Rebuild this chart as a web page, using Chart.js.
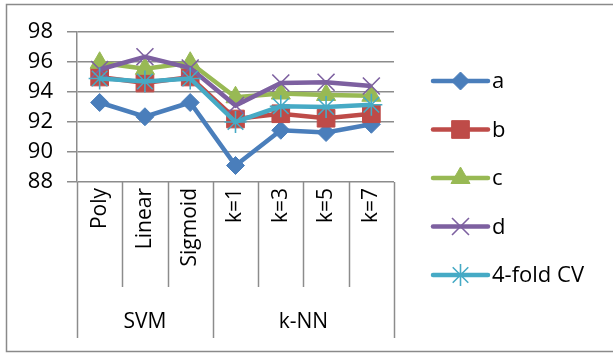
<!DOCTYPE html>
<html>
<head>
<meta charset="utf-8">
<script src="https://cdn.jsdelivr.net/npm/chart.js@4/dist/chart.umd.min.js"></script>
<style>
  html, body { margin: 0; padding: 0; background: #fff; }
  #wrap { width: 613px; height: 353px; position: relative; }
</style>
</head>
<body>
<div id="wrap"><canvas id="c" width="613" height="353"></canvas></div>
<script>
const categories = ['Poly', 'Linear', 'Sigmoid', 'k=1', 'k=3', 'k=5', 'k=7'];
const groupNames = ['SVM', 'k-NN'];
const groupSizes = [3, 4];
const seriesNames = ['a', 'b', 'c', 'd', '4-fold CV'];
const seriesA = [93.3, 92.35, 93.3, 89.1, 91.45, 91.3, 91.85];
const seriesB = [95.0, 94.6, 95.0, 92.2, 92.55, 92.25, 92.55];
const seriesC = [95.95, 95.55, 95.95, 93.65, 93.9, 93.8, 93.75];
const seriesD = [95.5, 96.35, 95.6, 93.1, 94.6, 94.65, 94.4];
const seriesCV = [94.9, 94.7, 94.9, 92.0, 93.05, 93.0, 93.15];
const yTicks = [88, 90, 92, 94, 96, 98];

const FONT = "'Open Sans', 'Liberation Sans', sans-serif";
const GRID = '#8c8c8c';
const colors = ['#4a7ebb', '#be4b48', '#98b954', '#7d60a0', '#46aac5'];
const styles = ['rectRot', 'rect', 'triangle', 'crossRot', 'star'];
const radii = [9, 12.5, 11, 12, 11];
const bw = [1, 1, 1, 1.6, 1.6];
const values = [seriesA, seriesB, seriesC, seriesD, seriesCV];

const datasets = values.map((v, i) => ({
  label: seriesNames[i],
  data: v,
  borderColor: colors[i],
  backgroundColor: colors[i],
  borderWidth: 4.5,
  pointStyle: styles[i],
  pointRadius: radii[i],
  pointHoverRadius: radii[i],
  pointBorderWidth: bw[i],
  pointBorderColor: colors[i],
  pointBackgroundColor: colors[i],
  tension: 0,
  order: values.length - i
}));

const decor = {
  id: 'decor',
  beforeDraw(chart) {
    const ctx = chart.ctx;
    ctx.save();
    ctx.strokeStyle = '#8a8a8a';
    ctx.lineWidth = 1.5;
    ctx.strokeRect(6.5, 4.5, 640, 347);
    ctx.restore();
  },
  afterDraw(chart) {
    const ctx = chart.ctx;
    const xs = chart.scales.x;
    const area = chart.chartArea;
    const n = categories.length;
    const step = n > 1 ? (xs.getPixelForValue(1) - xs.getPixelForValue(0)) : (area.right - area.left);
    const bounds = [];
    for (let i = 0; i <= n; i++) bounds.push(xs.getPixelForValue(i) - step / 2);
    const groupStarts = [0];
    groupSizes.forEach((s, i) => groupStarts.push(groupStarts[i] + s));
    const bottom = area.bottom;
    const catRowH = 105;
    const fullH = xs.bottom - xs.top;
    ctx.save();
    ctx.strokeStyle = GRID;
    ctx.lineWidth = 1.5;
    for (let i = 0; i <= n; i++) {
      const isGroup = groupStarts.includes(i);
      const x = Math.round(bounds[i]) + 0.5;
      ctx.beginPath();
      ctx.moveTo(x, bottom);
      ctx.lineTo(x, bottom + (isGroup ? fullH : catRowH));
      ctx.stroke();
    }
    ctx.fillStyle = '#000';
    ctx.font = "21px " + FONT;
    ctx.textAlign = 'center';
    ctx.textBaseline = 'middle';
    groupNames.forEach((g, gi) => {
      const x0 = bounds[groupStarts[gi]];
      const x1 = bounds[groupStarts[gi + 1]];
      ctx.fillText(g, (x0 + x1) / 2, bottom + 140);
    });
    // legend
    const lx0 = 433, lx1 = 488, ly0 = 81, ldy = 48.5;
    chart.data.datasets.forEach((ds, i) => {
      const y = ly0 + i * ldy;
      ctx.strokeStyle = ds.borderColor;
      ctx.lineWidth = 4.5;
      ctx.lineCap = 'round';
      ctx.beginPath();
      ctx.moveTo(lx0, y);
      ctx.lineTo(lx1, y);
      ctx.stroke();
      ctx.lineCap = 'butt';
      ctx.lineWidth = ds.pointBorderWidth;
      ctx.fillStyle = ds.pointBackgroundColor;
      ctx.strokeStyle = ds.pointBorderColor;
      Chart.helpers.drawPoint(ctx, {pointStyle: ds.pointStyle, radius: ds.pointRadius, rotation: 0, borderWidth: ds.pointBorderWidth}, (lx0 + lx1) / 2, y);
      ctx.fillStyle = '#000';
      ctx.font = "22px " + FONT;
      ctx.textAlign = 'left';
      ctx.textBaseline = 'middle';
      ctx.fillText(ds.label, lx1 + 4, y + 1);
    });
    ctx.restore();
  }
};

new Chart(document.getElementById('c'), {
  type: 'line',
  data: { labels: categories, datasets },
  options: {
    responsive: false,
    animation: false,
    devicePixelRatio: 1,
    layout: { padding: { left: 0, top: 32, right: 219, bottom: 15 } },
    plugins: { legend: { display: false }, tooltip: { enabled: false } },
    scales: {
      y: {
        min: yTicks[0],
        max: yTicks[yTicks.length - 1],
        afterBuildTicks(scale) { scale.ticks = yTicks.map(v => ({ value: v })); },
        afterFit(scale) { scale.width = 77; },
        ticks: { font: { family: FONT, size: 22 }, color: '#000', padding: 14, autoSkip: false },
        grid: { color: GRID, lineWidth: 1.5, tickLength: 10, drawTicks: true },
        border: { color: GRID, width: 1.5 }
      },
      x: {
        type: 'category',
        offset: true,
        afterFit(scale) { scale.height = 156; },
        ticks: { font: { family: FONT, size: 21 }, color: '#000', minRotation: 90, maxRotation: 90, padding: 6, autoSkip: false },
        grid: { display: false, drawTicks: false },
        border: { display: false }
      }
    }
  },
  plugins: [decor]
});
</script>
</body>
</html>
